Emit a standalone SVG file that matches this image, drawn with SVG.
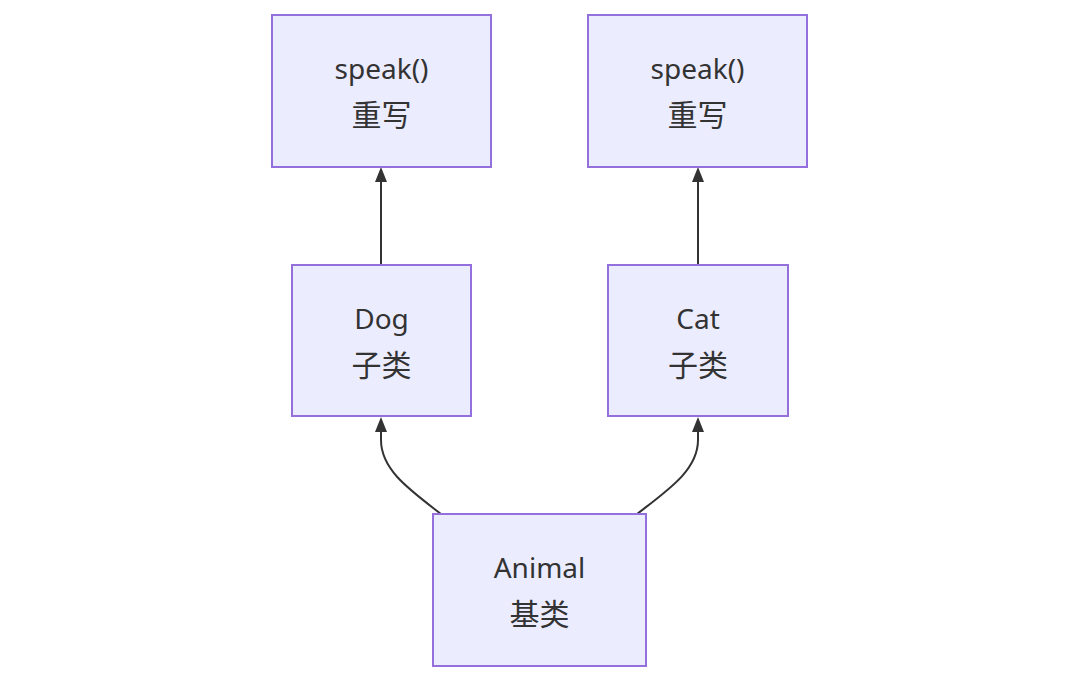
<svg xmlns="http://www.w3.org/2000/svg" width="1080" height="682" viewBox="0 0 1080 682">
<style>
.node rect{fill:#ECECFF;stroke:#9370DB;stroke-width:2}
.node text{font-family:"Noto Sans","Noto Sans CJK SC",sans-serif;font-size:28px;fill:#333;text-anchor:middle}
.node text.zh{font-size:30px}
.edge{fill:none;stroke:#333;stroke-width:2}
</style>
<rect width="1080" height="682" fill="#fff"/>
<g id="connectors">
<path class="edge" d="M381,265 L381,182"/>
<path class="edge" d="M698,265 L698,182"/>
<path class="edge" d="M441,514 C410,490 381,470 381,440 L381,432"/>
<path class="edge" d="M637,514 C668,490 698,470 698,440 L698,432"/>
<g fill="#333">
<path d="M375,182 L381,167 L387,182 Z"/>
<path d="M692,182 L698,167 L704,182 Z"/>
<path d="M375,432 L381,417 L387,432 Z"/>
<path d="M692,432 L698,417 L704,432 Z"/>
</g>
</g>
<g id="speak1" class="node"><rect x="272" y="15" width="219" height="152"/><text x="381.5" y="79">speak()</text><text class="zh" x="381.5" y="126">重写</text></g>
<g id="speak2" class="node"><rect x="588" y="15" width="219" height="152"/><text x="697.5" y="79">speak()</text><text class="zh" x="697.5" y="126">重写</text></g>
<g id="dog" class="node"><rect x="292" y="265" width="179" height="151"/><text x="381.5" y="329">Dog</text><text class="zh" x="381.5" y="376">子类</text></g>
<g id="cat" class="node"><rect x="608" y="265" width="180" height="151"/><text x="698" y="329">Cat</text><text class="zh" x="698" y="376">子类</text></g>
<g id="animal" class="node"><rect x="433" y="514" width="213" height="152"/><text x="539.5" y="578">Animal</text><text class="zh" x="539.5" y="625">基类</text></g>
</svg>
